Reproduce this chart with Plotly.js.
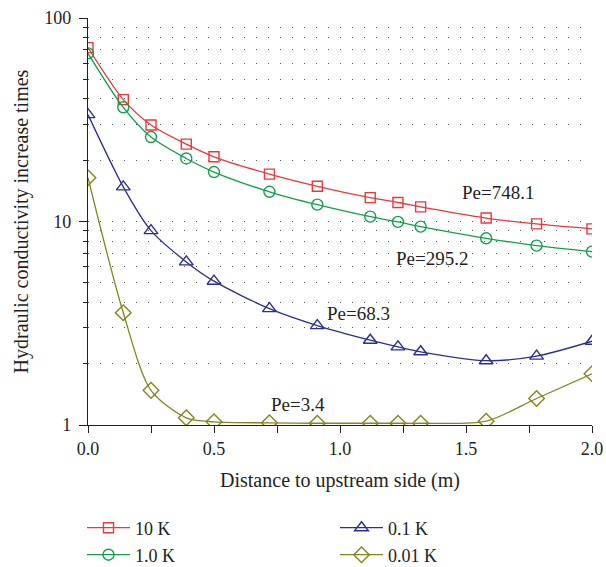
<!DOCTYPE html>
<html>
<head>
<meta charset="utf-8">
<script src="https://cdn.plot.ly/plotly-3.0.1.min.js"></script>
<style>html,body{margin:0;padding:0;background:#fff;}#chart{width:606px;height:567px;}</style>
</head>
<body>
<div id="chart"></div>
<script>
var distance = [0, 0.14, 0.25, 0.39, 0.5, 0.72, 0.91, 1.12, 1.23, 1.32, 1.58, 1.78, 2.0];
var k10   = [71.5, 39.7, 29.8, 24.0, 20.8, 17.1, 14.9, 13.1, 12.4, 11.8, 10.4, 9.73, 9.2];
var k1    = [67, 36.4, 26.0, 20.4, 17.5, 14.0, 12.1, 10.57, 9.96, 9.44, 8.27, 7.61, 7.11];
var k01   = [33.5, 14.8, 9.02, 6.33, 5.09, 3.73, 3.08, 2.61, 2.42, 2.29, 2.07, 2.18, 2.58];
var k001  = [16.4, 3.56, 1.48, 1.085, 1.036, 1.025, 1.02, 1.02, 1.02, 1.02, 1.044, 1.35, 1.785];
var seriesNames = ['10 K', '1.0 K', '0.1 K', '0.01 K'];
var peLabels = ['Pe=748.1', 'Pe=295.2', 'Pe=68.3', 'Pe=3.4'];
var peX = [1.625, 1.365, 1.075, 0.835];
var peY = [13.91, 6.57, 3.53, 1.268];
var yMajor = [1, 10, 100];
var yMajorText = ['1', '10', '100'];
var yMinor = [2,3,4,5,6,7,8,9,10,20,30,40,50,60,70,80,90];
var xTicks = [0, 0.5, 1.0, 1.5, 2.0];
var xTickText = ['0.0', '0.5', '1.0', '1.5', '2.0'];

var colors = ['#e8393c', '#12a04e', '#2b3090', '#85851c'];
var symbols = ['square-open', 'circle-open', 'triangle-up-open', 'diamond-open'];
var sizes = [10, 11, 12, 12];
var legendIds = ['legend', 'legend2', 'legend3', 'legend4'];
var ys = [k10, k1, k01, k001];
var FONT = 'Liberation Serif, Times New Roman, serif';
var TXT = '#231f20';

function mk(i) {
  return {
    x: distance, y: ys[i], name: seriesNames[i], type: 'scatter', mode: 'lines+markers',
    legend: legendIds[i],
    line: {color: colors[i], width: 1.3, shape: 'spline', smoothing: 0.8},
    marker: {symbol: symbols[i], size: sizes[i], color: colors[i], line: {color: colors[i], width: 1.4}}
  };
}
var data = [mk(0), mk(1), mk(2), mk(3)];

var annotations = peLabels.map(function(t, i) {
  return {x: peX[i], y: Math.log10(peY[i]), xref: 'x', yref: 'y', text: t, showarrow: false,
          font: {family: FONT, size: 19, color: TXT}};
});

function legendAt(xpx, ypx) {
  return {orientation: 'h', xref: 'container', yref: 'container', x: xpx / 606, y: 1 - ypx / 567,
          xanchor: 'left', yanchor: 'middle', itemwidth: 43,
          font: {family: FONT, size: 18, color: TXT}, bgcolor: 'rgba(0,0,0,0)'};
}

var layout = {
  width: 606, height: 567,
  margin: {l: 88, r: 14, t: 18, b: 141.5, autoexpand: false},
  paper_bgcolor: '#fff', plot_bgcolor: '#fff',
  font: {family: FONT, size: 18, color: TXT},
  showlegend: true,
  legend: legendAt(82, 528),
  legend2: legendAt(82, 555),
  legend3: legendAt(335, 528),
  legend4: legendAt(335, 555),
  xaxis: {
    range: [0, 2], showline: true, linecolor: '#231f20', linewidth: 1.2, zeroline: false, showgrid: false,
    tickmode: 'array', tickvals: xTicks, ticktext: xTickText, ticks: 'outside', ticklen: 7, tickcolor: '#231f20',
    tickfont: {family: FONT, size: 18, color: TXT}, ticklabelstandoff: 0,
    title: {text: 'Distance to upstream side (m)', font: {family: FONT, size: 20, color: TXT}, standoff: 15},
    minor: {dtick: 0.25, tick0: 0, ticks: 'outside', ticklen: 7, tickcolor: '#231f20', showgrid: false}
  },
  yaxis: {
    type: 'log', range: [0, 2], showline: true, linecolor: '#231f20', linewidth: 1.2, zeroline: false,
    showgrid: false, tickmode: 'array', tickvals: yMajor, ticktext: yMajorText,
    ticks: 'outside', ticklen: 8, tickcolor: '#231f20', tickfont: {family: FONT, size: 18, color: TXT},
    ticklabelstandoff: 4,
    title: {text: 'Hydraulic conductivity increase times', font: {family: FONT, size: 20, color: TXT}, standoff: 10},
    minor: {tickmode: 'array', tickvals: yMinor, ticks: 'outside', ticklen: 4, tickcolor: '#231f20',
            showgrid: true, gridcolor: '#555', gridwidth: 1, griddash: '1px,11px'}
  },
  annotations: annotations
};
Plotly.newPlot('chart', data, layout, {displayModeBar: false, staticPlot: true});
</script>
</body>
</html>
